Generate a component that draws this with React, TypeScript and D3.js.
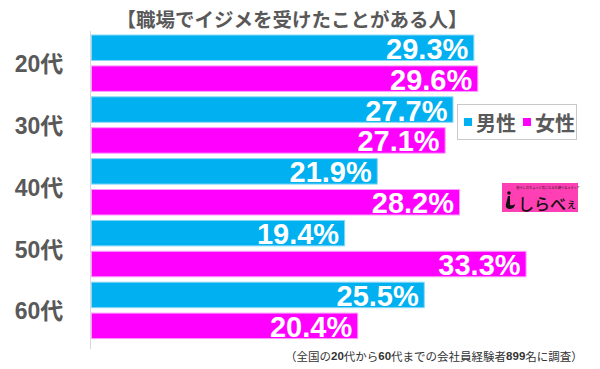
import * as d3 from "d3";

const categories = ["20代", "30代", "40代", "50代", "60代"];
const maleValues = [29.3, 27.7, 21.9, 19.4, 25.5];
const femaleValues = [29.6, 27.1, 28.2, 33.3, 20.4];
const seriesKeys = ["male", "female"];
const seriesNames = ["男性", "女性"];
const seriesColors = ["#00b0f0", "#ff00ff"];
const seriesStrokes = ["#8ad9f7", "#ff9cff"];

const title = "【職場でイジメを受けたことがある人】";
const note = [
  { t: "（全国の", b: false },
  { t: "20", b: true },
  { t: "代から", b: false },
  { t: "60", b: true },
  { t: "代までの会社員経験者", b: false },
  { t: "899", b: true },
  { t: "名に調査）", b: false },
];

const width = 600;
const height = 369;
const jp = "'Noto Sans CJK JP', sans-serif";
const latin = "'Liberation Sans', Arial, 'Noto Sans CJK JP', sans-serif";

const App = () => {
  const x = d3.scaleLinear().domain([0, 35]).range([91, 547.75]);
  const yGroup = d3.scaleBand<string>().domain(categories).range([32.3, 341.3]);
  const ySeries = d3
    .scaleBand<string>()
    .domain(seriesKeys)
    .range([0, yGroup.step()])
    .paddingInner(0.175)
    .paddingOuter(0.0875);

  const rows = categories.flatMap((c, i) => [
    { cat: c, key: "male", v: maleValues[i], s: 0 },
    { cat: c, key: "female", v: femaleValues[i], s: 1 },
  ]);

  return (
    <div style={{ position: "absolute", left: 0, top: 0 }}>
      <svg width={width} height={height} style={{ display: "block", background: "#fff" }}>
        <text x={292} y={18} textAnchor="middle" dominantBaseline="central"
          fontFamily={jp} fontWeight={700} fontSize={19.5} fill="#595959">
          {title}
        </text>

        <line x1={90.5} x2={90.5} y1={31} y2={349} stroke="#d9d9d9" />

        {rows.map((r, i) => {
          const y0 = (yGroup(r.cat) ?? 0) + (ySeries(r.key) ?? 0);
          return (
            <g key={i}>
              <rect x={x(0) + 0.5} y={y0} width={x(r.v) - x(0)} height={ySeries.bandwidth()}
                fill={seriesColors[r.s]} stroke={seriesStrokes[r.s]} strokeWidth={1} />
              <text x={x(r.v) - 5} y={y0 + ySeries.bandwidth() / 2 + 1} textAnchor="end"
                dominantBaseline="central" fontFamily={latin} fontWeight={700}
                fontSize={29} fill="#fff">
                {r.v.toFixed(1)}%
              </text>
            </g>
          );
        })}

        {categories.map((c) => (
          <text key={c} x={39} y={(yGroup(c) ?? 0) + yGroup.step() / 2 + 1} textAnchor="middle"
            dominantBaseline="central" fontFamily={latin} fontWeight={700} fontSize={23}
            fill="#595959">
            {c}
          </text>
        ))}

        <g>
          <rect x={457.5} y={104.5} width={119} height={35} fill="#fff" stroke="#c8c8c8" />
          {seriesNames.map((n, i) => (
            <g key={n} transform={`translate(${464 + i * 59},0)`}>
              <rect x={0} y={118} width={8} height={8} fill={seriesColors[i]} />
              <text x={12} y={122.5} dominantBaseline="central" fontFamily={jp}
                fontWeight={700} fontSize={20} fill="#595959">
                {n}
              </text>
            </g>
          ))}
        </g>

        <g>
          <rect x={502} y={183} width={76} height={29} fill="#ff40b4" />
          <text x={548} y={189} textAnchor="middle" fontFamily={jp} fontSize={3.2} fill="#222">
            暮らしのちょっと気になるを調べるメディア
          </text>
          <circle cx={509} cy={193} r={1.8} fill="#111" />
          <path d="M508,196 L510,196 L510,205 Q513,206 515,204 Q515,209 509,209 Q505,208 506,204 Z"
            fill="#111" />
          <text x={518} y={203} dominantBaseline="central" fontFamily={jp} fontWeight={500}
            fontSize={16} fill="#111">
            しらべ<tspan fontSize={11}>ぇ</tspan>
          </text>
        </g>

        <text x={285} y={356} dominantBaseline="central" fontFamily={jp} fontSize={11.5} fill="#333">
          {note.map((p, i) => (
            <tspan key={i} fontWeight={p.b ? 700 : 400} fontFamily={p.b ? latin : jp}>
              {p.t}
            </tspan>
          ))}
        </text>
      </svg>
    </div>
  );
};

export default App;
